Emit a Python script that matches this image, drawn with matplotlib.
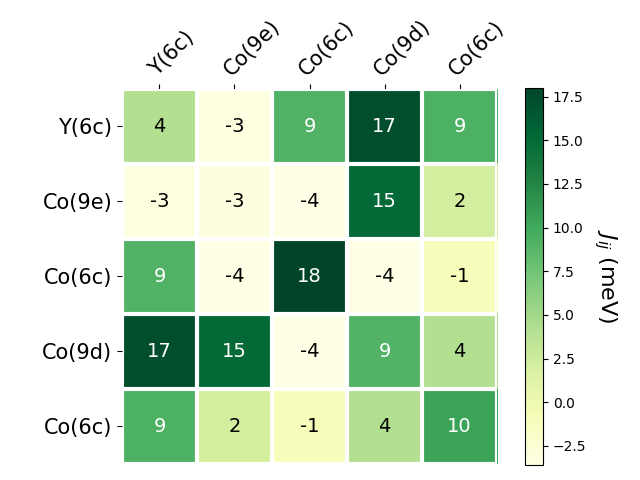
import numpy as np
import matplotlib.pyplot as plt

sites = ["Y(6c)", "Co(9e)", "Co(6c)", "Co(9d)", "Co(6c)"]

# exchange couplings (meV), rows/cols ordered as sites
row_y6c = [4.2, -3.3, 9.1, 17.2, 9.3]
row_co9e = [-3.3, -3.2, -3.6, 15.1, 2.1]
row_co6c = [9.1, -3.6, 18.0, -3.6, -1.0]
row_co9d = [17.2, 15.1, -3.6, 9.0, 4.1]
row_co6c_b = [9.3, 2.1, -1.0, 4.1, 10.4]

J = np.array([row_y6c, row_co9e, row_co6c, row_co9d, row_co6c_b])

fig = plt.figure(figsize=(6.4, 4.8))
ax = fig.add_axes([0.1906, 0.031, 0.586, 0.786])
cax = fig.add_axes([0.8203, 0.031, 0.028, 0.786])
im = ax.imshow(J, cmap="YlGn")

cbar = fig.colorbar(im, cax=cax)
cbar.ax.set_ylabel(r"$J_{ij}$ (meV)", rotation=-90, va="bottom", fontsize=16)

ax.set_xticks(np.arange(len(sites)), labels=sites, fontsize=15)
ax.set_yticks(np.arange(len(sites)), labels=sites, fontsize=15)
ax.tick_params(top=True, bottom=False, labeltop=True, labelbottom=False)
plt.setp(ax.get_xticklabels(), rotation=45, ha="left", rotation_mode="anchor")

for s in ax.spines.values():
    s.set_visible(False)
ax.set_xticks(np.arange(len(sites) + 1) - .5, minor=True)
ax.set_yticks(np.arange(len(sites) + 1) - .5, minor=True)
ax.grid(which="minor", color="w", linestyle="-", linewidth=3)
ax.tick_params(which="minor", bottom=False, left=False, top=False)

thr = im.norm(J.max()) / 2.
for i in range(J.shape[0]):
    for j in range(J.shape[1]):
        c = "white" if im.norm(J[i, j]) > thr else "black"
        ax.text(j, i, f"{J[i, j]:.0f}", ha="center", va="center", color=c, fontsize=14)

fig.savefig("out.png", dpi=100)
